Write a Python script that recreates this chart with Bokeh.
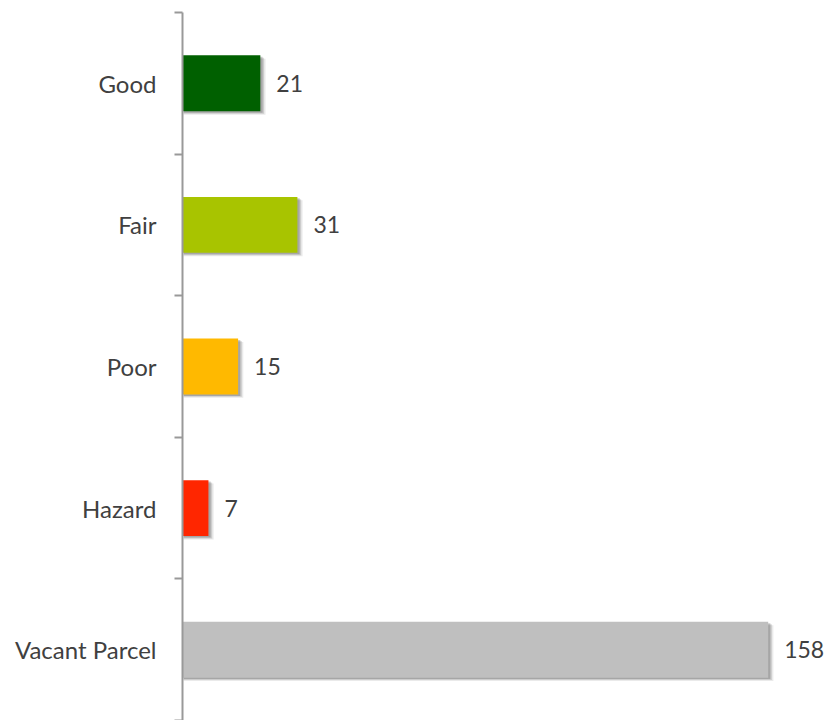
from bokeh.plotting import figure
from bokeh.models import FixedTicker, ColumnDataSource, Range1d
from bokeh.core.properties import value
from bokeh.embed import file_html
from bokeh.resources import INLINE

categories = ["Good", "Fair", "Poor", "Hazard", "Vacant Parcel"]
counts = [21, 31, 15, 7, 158]
colors = ["#006000", "#A8C400", "#FFB900", "#FF2600", "#BFBFBF"]

n = len(categories)
ypos = [n - i - 0.5 for i in range(n)]
labels = [str(c) for c in counts]

src = ColumnDataSource(dict(y=ypos, v=counts, c=colors, t=labels))

p = figure(width=827, height=720, output_backend="svg", toolbar_location=None,
           x_range=Range1d(0, 174), y_range=Range1d(0, n),
           min_border_left=182, min_border_right=0, min_border_top=12,
           min_border_bottom=0)
p.outline_line_color = None
p.background_fill_color = None
p.border_fill_color = "white"
p.grid.visible = False
p.xaxis.visible = False

# soft shadow layers
for dx, dy, a in [(1.4, 0.024, 0.10), (1.0, 0.017, 0.16), (0.6, 0.01, 0.24)]:
    p.quad(left=0.3, right=[v + dx for v in counts],
           top=[y + 0.1975 - dy for y in ypos],
           bottom=[y - 0.1975 - dy for y in ypos],
           fill_color="#303030", fill_alpha=a, line_color=None)

p.hbar(y="y", right="v", left=0, height=0.395, source=src,
       fill_color="c", line_color=None)

p.text(x="v", y="y", text="t", source=src, x_offset=16,
       text_baseline="middle", text_align="left",
       text_font=value("Lato"), text_font_size="23px", text_color="#404040")

ax = p.yaxis[0]
ax.ticker = FixedTicker(ticks=ypos, minor_ticks=list(range(n + 1)))
ax.major_label_overrides = {y: c for y, c in zip(ypos, categories)}
ax.major_tick_line_color = None
ax.major_tick_out = 0
ax.major_tick_in = 0
ax.minor_tick_out = 8
ax.minor_tick_in = 0
ax.minor_tick_line_color = "#999999"
ax.minor_tick_line_width = 2
ax.axis_line_color = "#999999"
ax.axis_line_width = 2
ax.major_label_standoff = 18
ax.major_label_text_font = "Lato"
ax.major_label_text_font_size = "24px"
ax.major_label_text_color = "#404040"

open("out.html", "w").write(file_html(p, INLINE))
